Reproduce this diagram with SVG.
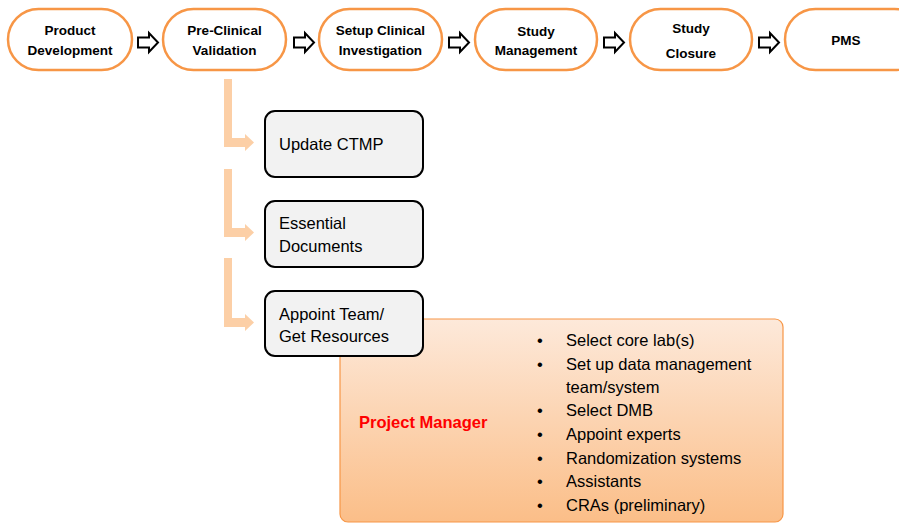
<svg xmlns="http://www.w3.org/2000/svg" width="899" height="523" viewBox="0 0 899 523">
<defs>
<linearGradient id="og" x1="0" y1="0" x2="0" y2="1">
<stop offset="0" stop-color="#fde9da"/>
<stop offset="1" stop-color="#fbbe88"/>
</linearGradient>
<style>
.stage{fill:#fff;stroke:#f79646;stroke-width:2.5}
.st{font-family:"Liberation Sans",Arial,sans-serif;font-weight:bold;font-size:13.5px;fill:#000;text-anchor:middle}
.box{fill:#f2f2f2;stroke:#000;stroke-width:2}
.bt{font-family:"Liberation Sans",Arial,sans-serif;font-size:16.5px;fill:#000}
.flow{fill:#fff;stroke:#000;stroke-width:2;stroke-linejoin:miter}
.elbow{fill:#fccfa6;stroke:none}
</style>
</defs>
<rect width="899" height="523" fill="#fff"/>

<g id="n1"><rect class="stage" x="8" y="9" width="124" height="61" rx="30.5"/>
<text class="st" x="70" y="35">Product</text><text class="st" x="70" y="55">Development</text></g>
<g id="n2"><rect class="stage" x="163" y="9" width="123" height="61" rx="30.5"/>
<text class="st" x="224.5" y="35">Pre-Clinical</text><text class="st" x="224.5" y="55">Validation</text></g>
<g id="n3"><rect class="stage" x="319" y="9" width="123" height="61" rx="30.5"/>
<text class="st" x="380.5" y="35">Setup Clinical</text><text class="st" x="380.5" y="55">Investigation</text></g>
<g id="n4"><rect class="stage" x="475" y="9" width="122" height="61" rx="30.5"/>
<text class="st" x="536" y="36">Study</text><text class="st" x="536" y="55">Management</text></g>
<g id="n5"><rect class="stage" x="630" y="9" width="122" height="61" rx="30.5"/>
<text class="st" x="691" y="33">Study</text><text class="st" x="691" y="58">Closure</text></g>
<g id="n6"><rect class="stage" x="785" y="9" width="140" height="61" rx="30.5"/>
<text class="st" x="846" y="45">PMS</text></g>

<g id="b1"><rect class="box" x="265" y="111" width="158" height="66" rx="10"/>
<text class="bt" x="279" y="150">Update CTMP</text></g>
<g id="b2"><rect class="box" x="265" y="201" width="158" height="66" rx="10"/>
<text class="bt" x="279" y="229">Essential</text><text class="bt" x="279" y="252">Documents</text></g>

<g id="pm">
<rect x="340" y="319" width="443" height="203" rx="8" fill="url(#og)" stroke="#f79646" stroke-width="1.2"/>
<text x="359" y="428" font-family="'Liberation Sans',Arial,sans-serif" font-weight="bold" font-size="16.5" fill="#ff0000">Project Manager</text>
<g class="bt">
<text x="537" y="346">•</text><text x="566" y="346">Select core lab(s)</text>
<text x="537" y="370">•</text><text x="566" y="370">Set up data management</text>
<text x="566" y="393">team/system</text>
<text x="537" y="416">•</text><text x="566" y="416">Select DMB</text>
<text x="537" y="440">•</text><text x="566" y="440">Appoint experts</text>
<text x="537" y="464">•</text><text x="566" y="464">Randomization systems</text>
<text x="537" y="487">•</text><text x="566" y="487">Assistants</text>
<text x="537" y="511">•</text><text x="566" y="511">CRAs (preliminary)</text>
</g>
</g>

<g id="b3"><rect class="box" x="265" y="291" width="158" height="65" rx="10"/>
<text class="bt" x="279" y="320">Appoint Team/</text><text class="bt" x="279" y="342">Get Resources</text></g>

<g id="connectors">
<path class="flow" d="M138,37.5 H149 V33 L158,42.5 L149,52 V47.5 H138 Z"/>
<path class="flow" d="M294,37.5 H305 V33 L314,42.5 L305,52 V47.5 H294 Z"/>
<path class="flow" d="M449,37.5 H460 V33 L469,42.5 L460,52 V47.5 H449 Z"/>
<path class="flow" d="M604,37.5 H615 V33 L624,42.5 L615,52 V47.5 H604 Z"/>
<path class="flow" d="M759,37.5 H770 V33 L779,42.5 L770,52 V47.5 H759 Z"/>
<path class="elbow" d="M224,79 H232 V138 H245 V134 L254,142.5 L245,151 V147 H224 Z"/>
<path class="elbow" d="M224,169 H232 V228 H245 V224 L254,232.5 L245,241 V237 H224 Z"/>
<path class="elbow" d="M224,258 H232 V318 H245 V314 L254,322.5 L245,331 V327 H224 Z"/>
</g>
</svg>
